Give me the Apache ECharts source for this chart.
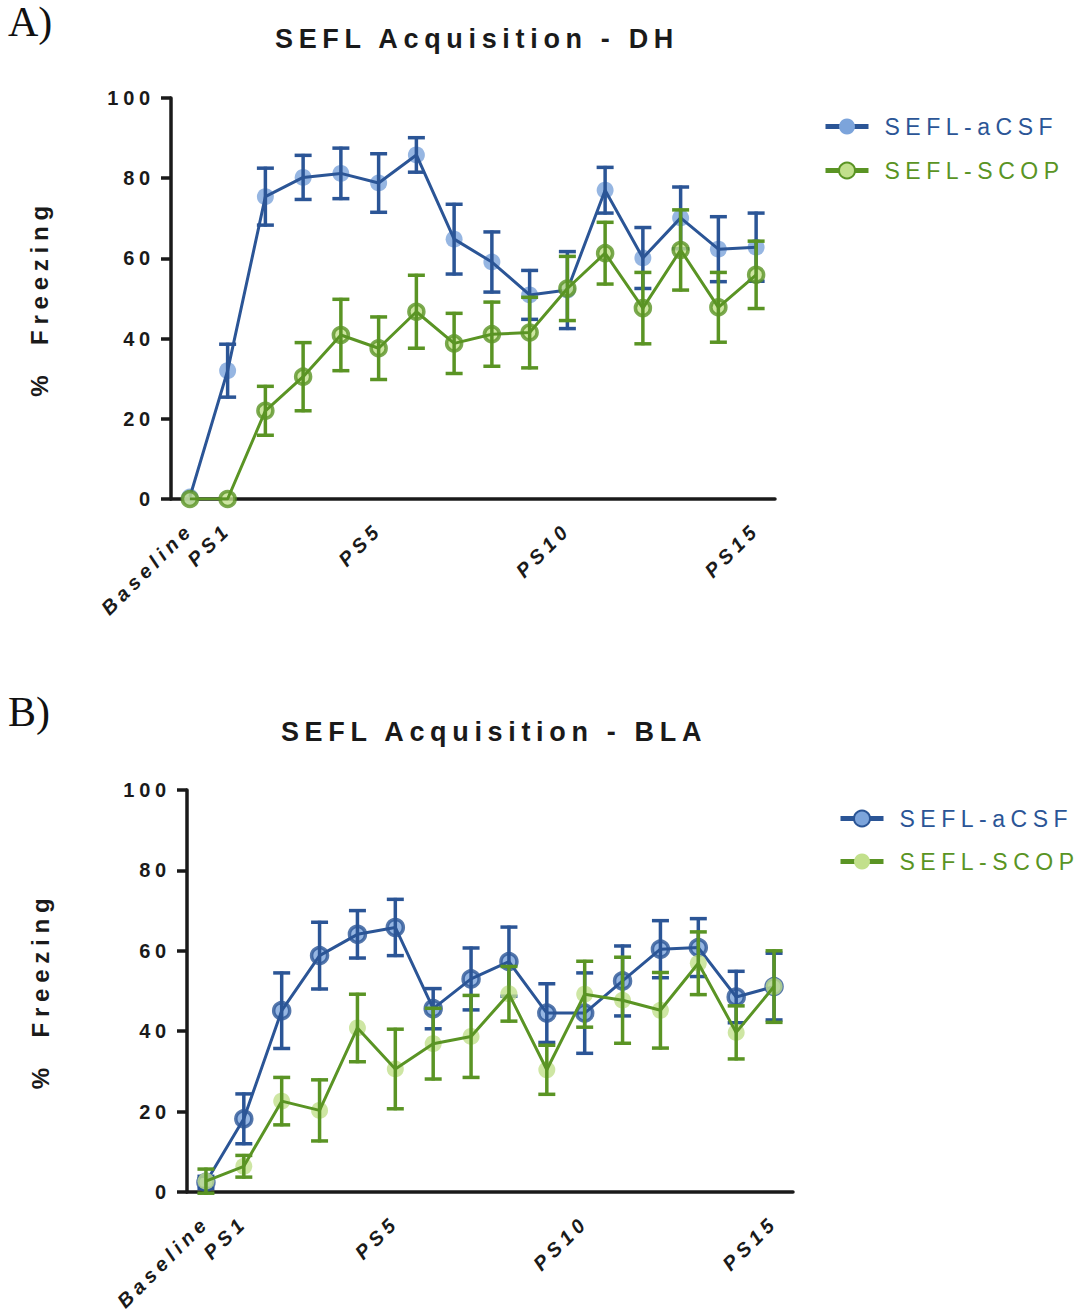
<!DOCTYPE html>
<html><head><meta charset="utf-8">
<script src="https://cdn.jsdelivr.net/npm/echarts@6/dist/echarts.min.js"></script>
<style>
html,body{margin:0;padding:0;background:#fff;}
#c{width:1084px;height:1315px;}
#c text{letter-spacing:0.24em;}
#c text[style*="27px"]{letter-spacing:0.21em;}
#c text[style*="Serif"]{letter-spacing:0;}
</style></head><body><div id="c"></div>
<script>
// ---------- data ----------
const categories = ['Baseline','PS1','PS2','PS3','PS4','PS5','PS6','PS7','PS8','PS9','PS10','PS11','PS12','PS13','PS14','PS15'];
const shownXLabels = ['Baseline','PS1','PS5','PS10','PS15'];
const yTickMin = 0, yTickMax = 100, yTickStep = 20;
const seriesNames = ['SEFL-aCSF','SEFL-SCOP'];
const panelTitles = ['SEFL Acquisition - DH','SEFL Acquisition - BLA'];
const panelLetters = ['A)','B)'];
const yAxisName = '%  Freezing';

// Panel A (DH): mean and SEM
const dhAcsfMean = [0.5, 32, 75.4, 80.2, 81.2, 78.8, 85.8, 64.8, 59.1, 50.9, 52.1, 77, 60.1, 70.1, 62.3, 62.8];
const dhAcsfSem  = [0, 6.6, 7.1, 5.5, 6.3, 7.3, 4.3, 8.7, 7.5, 6.1, 9.6, 5.7, 7.6, 7.7, 8.1, 8.5];
const dhScopMean = [0, 0, 22, 30.5, 40.9, 37.6, 46.7, 38.8, 41.1, 41.5, 52.5, 61.3, 47.6, 62.1, 47.8, 55.9];
const dhScopSem  = [0, 0, 6.1, 8.5, 8.9, 7.8, 9.1, 7.5, 8, 8.8, 8, 7.7, 8.9, 10, 8.7, 8.4];
// Panel B (BLA): mean and SEM
const blaAcsfMean = [2.4, 18.2, 45.1, 58.8, 64.1, 65.8, 45.6, 53, 57.3, 44.5, 44.5, 52.5, 60.4, 60.8, 48.5, 51.1];
const blaAcsfSem  = [1.5, 6.2, 9.4, 8.3, 5.9, 7, 5, 7.7, 8.6, 7.3, 10, 8.7, 7.1, 7.2, 6.4, 8.3];
const blaScopMean = [2.7, 6.4, 22.6, 20.3, 40.8, 30.6, 36.9, 38.7, 49.3, 30.4, 49.2, 47.7, 45.2, 56.9, 39.7, 51.1];
const blaScopSem  = [3, 2.7, 5.9, 7.6, 8.4, 9.9, 8.8, 10.2, 6.8, 6.1, 8.2, 10.7, 9.4, 7.8, 6.6, 8.9];

// ---------- styles ----------
const BLUE = '#2b5596', LBLUE = '#7ca4db', GREEN = '#5a9424', LGREEN = '#c2e08c', INK = '#1a1a1a';
const SANS = 'Liberation Sans';

const grids = [
  {left: 171, top: 98, width: 604, height: 401},
  {left: 187, top: 790, width: 606, height: 402}
];

function xAxisFor(i) {
  return {
    type: 'category', gridIndex: i, data: categories, boundaryGap: true,
    axisLine: {lineStyle: {color: INK, width: 3.5}},
    axisTick: {interval: 0, alignWithLabel: true, length: 10, lineStyle: {color: INK, width: 3.5}},
    axisLabel: {
      interval: (idx, val) => shownXLabels.includes(val),
      rotate: 45, margin: 27, color: INK,
      fontFamily: SANS, fontSize: 20, fontWeight: 'bold', fontStyle: 'italic'
    },
    splitLine: {show: false}
  };
}
function yAxisFor(i, gap) {
  return {
    type: 'value', gridIndex: i, min: yTickMin, max: yTickMax, interval: yTickStep,
    name: yAxisName, nameLocation: 'middle', nameGap: gap,
    nameTextStyle: {fontFamily: SANS, fontSize: 24, fontWeight: 'bold', color: INK},
    axisLine: {show: true, lineStyle: {color: INK, width: 3.5}},
    axisTick: {show: true, length: 10, lineStyle: {color: INK, width: 3.5}},
    axisLabel: {margin: 16, color: INK, fontFamily: SANS, fontSize: 20, fontWeight: 'bold'},
    splitLine: {show: false}
  };
}

function errSeries(name, mean, sem, color, axis, z) {
  return {
    type: 'custom', name: name, xAxisIndex: axis, yAxisIndex: axis, z: z, silent: true,
    data: mean.map((m, i) => [i, m - sem[i], m + sem[i]]),
    encode: {x: 0, y: [1, 2]},
    renderItem: (params, api) => {
      const x = api.value(0), lo = api.value(1), hi = api.value(2);
      if (!(hi - lo > 0)) return null;
      const a = api.coord([x, hi]), b = api.coord([x, lo]);
      const hw = 8.5;
      const st = {stroke: color, lineWidth: 3.5};
      return {type: 'group', children: [
        {type: 'line', shape: {x1: a[0], y1: a[1] - 1.5, x2: b[0], y2: b[1] + 1.5}, style: st},
        {type: 'line', shape: {x1: a[0] - hw, y1: a[1], x2: a[0] + hw, y2: a[1]}, style: st},
        {type: 'line', shape: {x1: b[0] - hw, y1: b[1], x2: b[0] + hw, y2: b[1]}, style: st}
      ]};
    }
  };
}
function markerSeries(mean, axis, size, itemStyle, z) {
  return {type: 'scatter', xAxisIndex: axis, yAxisIndex: axis, data: mean, symbol: 'circle',
    symbolSize: size, itemStyle: itemStyle, z: z, silent: true, clip: false};
}
function lineSeries(name, mean, axis, color, itemStyle, z) {
  return {type: 'line', name: name, xAxisIndex: axis, yAxisIndex: axis, data: mean,
    symbol: 'circle', showSymbol: false, lineStyle: {color: color, width: 3},
    itemStyle: itemStyle, z: z, silent: true, emphasis: {disabled: true}};
}

const aBlueStyle = {color: LBLUE};
const aGreenStyle = {color: LGREEN, borderColor: GREEN, borderWidth: 3.5};
const bBlueStyle = {color: LBLUE, borderColor: BLUE, borderWidth: 3.5};
const bGreenStyle = {color: LGREEN};

const series = [
  markerSeries(dhAcsfMean, 0, 17, aBlueStyle, 1),
  lineSeries('A|' + seriesNames[0], dhAcsfMean, 0, BLUE, aBlueStyle, 2),
  errSeries('errA0', dhAcsfMean, dhAcsfSem, BLUE, 0, 3),
  markerSeries(dhScopMean, 0, 15, aGreenStyle, 4),
  lineSeries('A|' + seriesNames[1], dhScopMean, 0, GREEN, aGreenStyle, 5),
  errSeries('errA1', dhScopMean, dhScopSem, GREEN, 0, 6),

  markerSeries(blaAcsfMean, 1, 16, bBlueStyle, 1),
  lineSeries('B|' + seriesNames[0], blaAcsfMean, 1, BLUE, bBlueStyle, 2),
  errSeries('errB0', blaAcsfMean, blaAcsfSem, BLUE, 1, 3),
  markerSeries(blaScopMean, 1, 17, bGreenStyle, 4),
  lineSeries('B|' + seriesNames[1], blaScopMean, 1, GREEN, bGreenStyle, 5),
  errSeries('errB1', blaScopMean, blaScopSem, GREEN, 1, 6)
];

function legendFor(prefix, left, top, gap) {
  return {
    orient: 'vertical', left: left, top: top, itemWidth: 43, itemHeight: 20, itemGap: gap,
    selectedMode: false,
    data: [
      {name: prefix + '|' + seriesNames[0], textStyle: {color: BLUE}},
      {name: prefix + '|' + seriesNames[1], textStyle: {color: GREEN}}
    ],
    formatter: n => n.split('|')[1],
    lineStyle: {width: 5},
    textStyle: {fontFamily: SANS, fontSize: 23, padding: [0, 0, 0, 11]}
  };
}

const titleStyle = {fontFamily: SANS, fontSize: 27, fontWeight: 'bold', color: INK};

const option = {
  animation: false,
  backgroundColor: '#ffffff',
  title: [
    {text: panelTitles[0], left: 472, top: 20, textAlign: 'center', textStyle: titleStyle},
    {text: panelTitles[1], left: 489, top: 713, textAlign: 'center', textStyle: titleStyle}
  ],
  graphic: [
    {type: 'text', left: 8, top: 1, style: {text: panelLetters[0], fontFamily: 'Liberation Serif', fontSize: 42, fill: '#111'}},
    {type: 'text', left: 8, top: 691, style: {text: panelLetters[1], fontFamily: 'Liberation Serif', fontSize: 42, fill: '#111'}}
  ],
  legend: [legendFor('A', 818, 110, 21), legendFor('B', 833, 802, 20)],
  grid: grids,
  xAxis: [xAxisFor(0), xAxisFor(1)],
  yAxis: [yAxisFor(0, 120), yAxisFor(1, 135)],
  series: series
};

const chart = echarts.init(document.getElementById('c'), null, {renderer: 'svg'});
chart.setOption(option);
</script></body></html>
